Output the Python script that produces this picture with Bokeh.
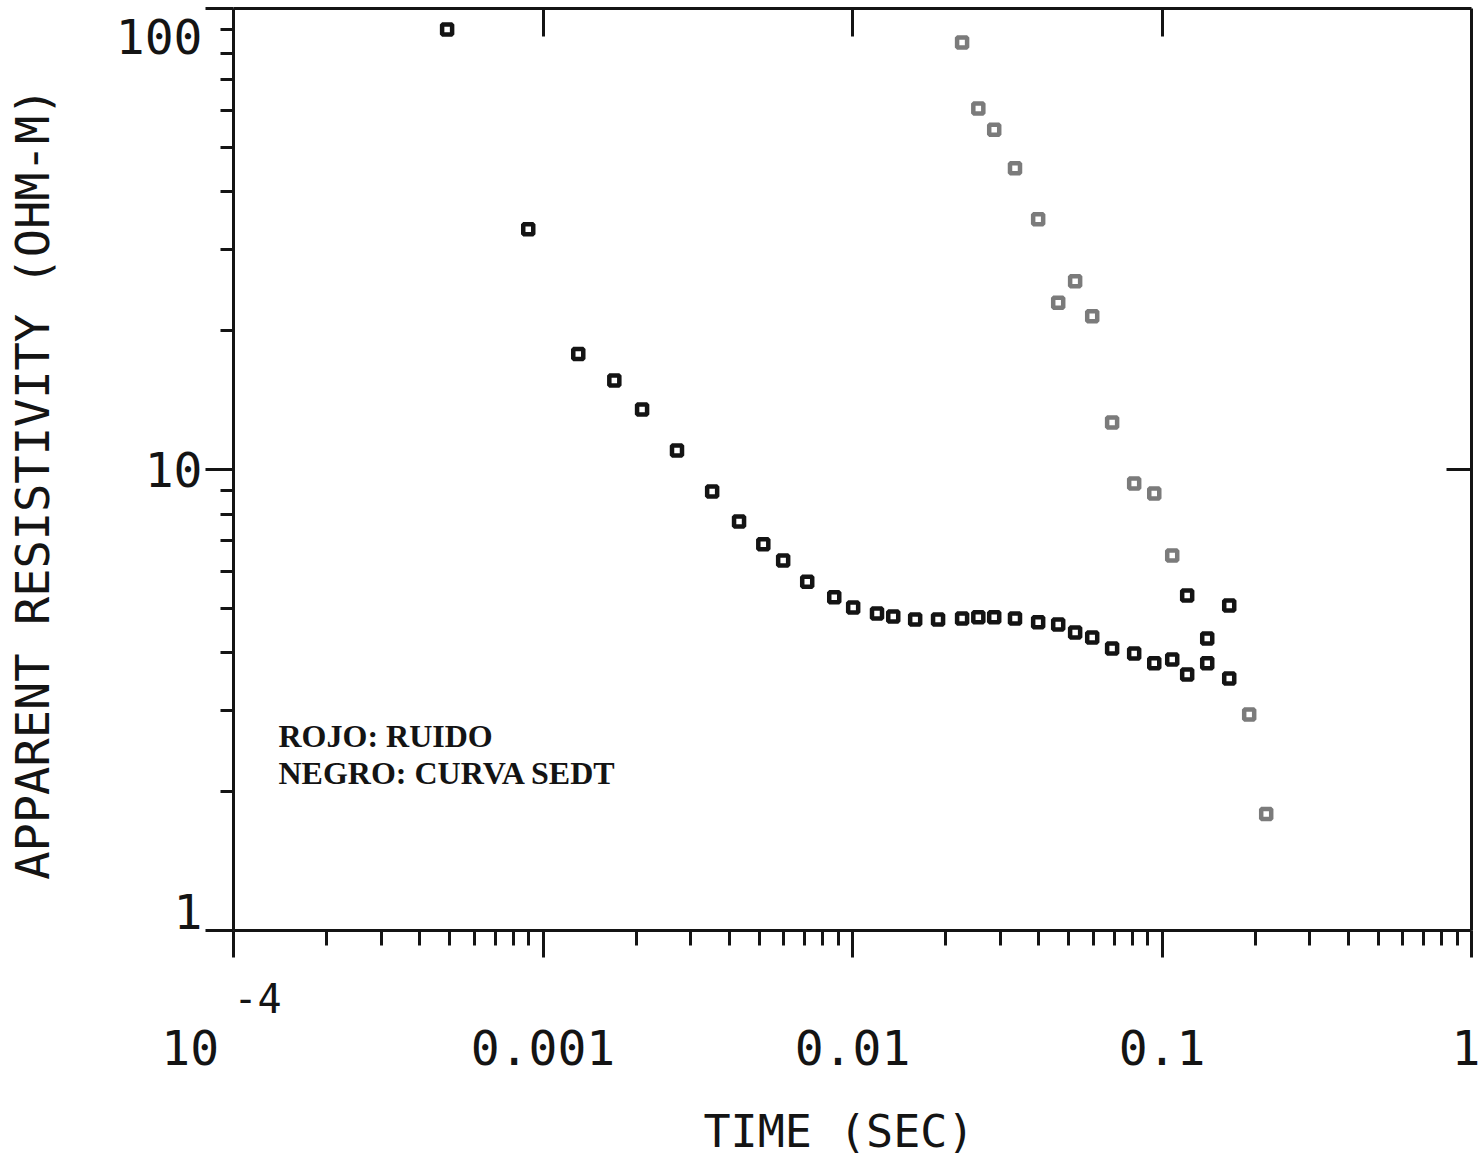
from bokeh.plotting import figure
from bokeh.models import Range1d, LogAxis, FixedTicker, Label, CustomJSTickFormatter
from bokeh.embed import file_html
from bokeh.resources import INLINE

# ---- data ----
tiempo_negro = [4.90e-4, 8.96e-4, 1.30e-3, 1.70e-3, 2.09e-3, 2.71e-3, 3.52e-3, 4.30e-3,
                5.15e-3, 5.97e-3, 7.14e-3, 8.73e-3, 0.01005, 0.0120, 0.01354, 0.01594,
                0.0189, 0.0226, 0.0255, 0.0287, 0.0335, 0.0398, 0.0462, 0.0524,
                0.0595, 0.0690, 0.0813, 0.0944, 0.1079, 0.1206, 0.1400, 0.1649]
resist_negro = [90.0, 33.2, 17.8, 15.6, 13.5, 11.0, 8.96, 7.71,
                6.88, 6.35, 5.71, 5.28, 5.02, 4.87, 4.80, 4.73,
                4.73, 4.75, 4.78, 4.78, 4.75, 4.66, 4.61, 4.43,
                4.32, 4.09, 3.99, 3.80, 3.87, 3.59, 3.80, 3.52]

tiempo_ruido = [0.0226, 0.0255, 0.0287, 0.0335, 0.0398, 0.0462, 0.0524, 0.0595,
                0.0690, 0.0813, 0.0944, 0.1079, 0.1913, 0.2171]
resist_ruido = [84.4, 60.7, 54.6, 45.0, 34.9, 23.0, 25.6, 21.5,
                12.65, 9.32, 8.87, 6.51, 2.94, 1.79]

# noise points that were printed dark
tiempo_ruido_oscuro = [0.1206, 0.1400, 0.1649]
resist_ruido_oscuro = [5.33, 4.30, 5.07]

# axis ticks and their printed labels
x_major = [1e-4, 1e-3, 1e-2, 1e-1, 1.0]
x_tick_text = ["10", "0.001", "0.01", "0.1", "1"]
x_label_at = [1e-4, 1e-3, 1e-2, 1e-1, 0.96]   # where each label is printed
x_exponent = "-4"
y_major = [1.0, 10.0, 100.0]
y_tick_text = ["1", "10", "100"]
y_label_at = [1.1, 10.0, 87.0]                # where each label is printed

titulo_x = "TIME  (SEC)"
titulo_y = "APPARENT RESISTIVITY  (OHM-M)"
leyenda = ["ROJO: RUIDO", "NEGRO: CURVA SEDT"]

# ---- styling ----
INK = "#141414"
GRAY = "#7b7b7b"
MONO = "DejaVu Sans Mono"
NB = "\u00a0"

x_minor = [k * 10.0 ** e for e in range(-4, 0) for k in range(2, 10)]
y_minor = [k * 10.0 ** e for e in range(0, 2) for k in range(2, 10)]

p = figure(frame_width=1238, frame_height=922,
           x_axis_type="log", y_axis_type="log",
           x_range=Range1d(1e-4, 1.0), y_range=Range1d(1.0, 100.0),
           output_backend="svg", toolbar_location=None,
           min_border_left=233, min_border_right=10,
           min_border_top=8, min_border_bottom=238,
           background_fill_color="white", border_fill_color="white")
p.outline_line_color = None
p.grid.visible = False


def style_axis(ax):
    ax.axis_line_color = INK
    ax.axis_line_width = 3
    ax.major_tick_line_color = INK
    ax.major_tick_line_width = 3
    ax.minor_tick_line_color = INK
    ax.minor_tick_line_width = 3
    ax.major_label_text_font = MONO
    ax.major_label_text_font_size = "48px"
    ax.major_label_text_color = INK
    ax.axis_label_text_font = MONO
    ax.axis_label_text_font_style = "normal"
    ax.axis_label_text_color = INK


def silent(ax):
    ax.formatter = CustomJSTickFormatter(code="return ''")
    ax.major_label_text_font_size = "1px"
    ax.major_label_standoff = 0


def label_only(ax):
    ax.axis_line_color = None
    ax.major_tick_in = 0
    ax.major_tick_out = 0
    ax.minor_tick_in = 0
    ax.minor_tick_out = 0


# bottom: tick axis (carries the small exponent) + label axis
xa = p.xaxis[0]
xa.ticker = FixedTicker(ticks=x_major, minor_ticks=x_minor)
style_axis(xa)
xa.major_label_overrides = {v: (NB * 2 + x_exponent if v == x_major[0] else "") for v in x_major}
xa.major_label_text_font_size = "40px"
xa.major_label_standoff = 18
xa.major_tick_in = 0
xa.major_tick_out = 27
xa.minor_tick_in = 0
xa.minor_tick_out = 15

xl = LogAxis(ticker=FixedTicker(ticks=x_label_at, minor_ticks=[]))
style_axis(xl)
label_only(xl)
xl.major_label_overrides = {v: (t + NB * 3 if v == x_label_at[0] else t)
                            for v, t in zip(x_label_at, x_tick_text)}
xl.major_label_standoff = -5
xl.axis_label = titulo_x
xl.axis_label_text_font_size = "45px"
xl.axis_label_standoff = 26
p.add_layout(xl, "below")

# left: tick axis + label axis
ya = p.yaxis[0]
ya.ticker = FixedTicker(ticks=y_major, minor_ticks=y_minor)
style_axis(ya)
silent(ya)
ya.major_tick_in = 0
ya.major_tick_out = 28
ya.minor_tick_in = 0
ya.minor_tick_out = 13

yl = LogAxis(ticker=FixedTicker(ticks=y_label_at, minor_ticks=[]))
style_axis(yl)
label_only(yl)
yl.major_label_overrides = dict(zip(y_label_at, y_tick_text))
yl.major_label_standoff = 3
yl.axis_label = titulo_y
yl.axis_label_text_font_size = "47px"
yl.axis_label_standoff = 53
p.add_layout(yl, "left")


def frame_axis(ax, tick_in):
    style_axis(ax)
    silent(ax)
    ax.major_tick_in = tick_in
    ax.major_tick_out = 0
    ax.minor_tick_in = 0
    ax.minor_tick_out = 0


top = LogAxis(ticker=FixedTicker(ticks=x_major[1:-1], minor_ticks=[]))
frame_axis(top, 28)
p.add_layout(top, "above")

right = LogAxis(ticker=FixedTicker(ticks=[y_major[1]], minor_ticks=[]))
frame_axis(right, 25)
p.add_layout(right, "right")

# ---- legend text ----
for i, t in enumerate(leyenda):
    p.add_layout(Label(x=1e-4, y=1.0, text=t, x_offset=45, y_offset=195 - 37 * i,
                       text_align="left", text_baseline="alphabetic",
                       text_font="Liberation Serif", text_font_style="bold",
                       text_font_size="32px", text_color=INK))

# ---- data marks ----
p.scatter(tiempo_ruido, resist_ruido, marker="square", size=10,
          fill_color=None, line_color=GRAY, line_width=4.5)
p.scatter(tiempo_negro, resist_negro, marker="square", size=10,
          fill_color=None, line_color=INK, line_width=4.5)
p.scatter(tiempo_ruido_oscuro, resist_ruido_oscuro, marker="square", size=10,
          fill_color=None, line_color=INK, line_width=4.5)

open("out.html", "w").write(file_html(p, INLINE))
